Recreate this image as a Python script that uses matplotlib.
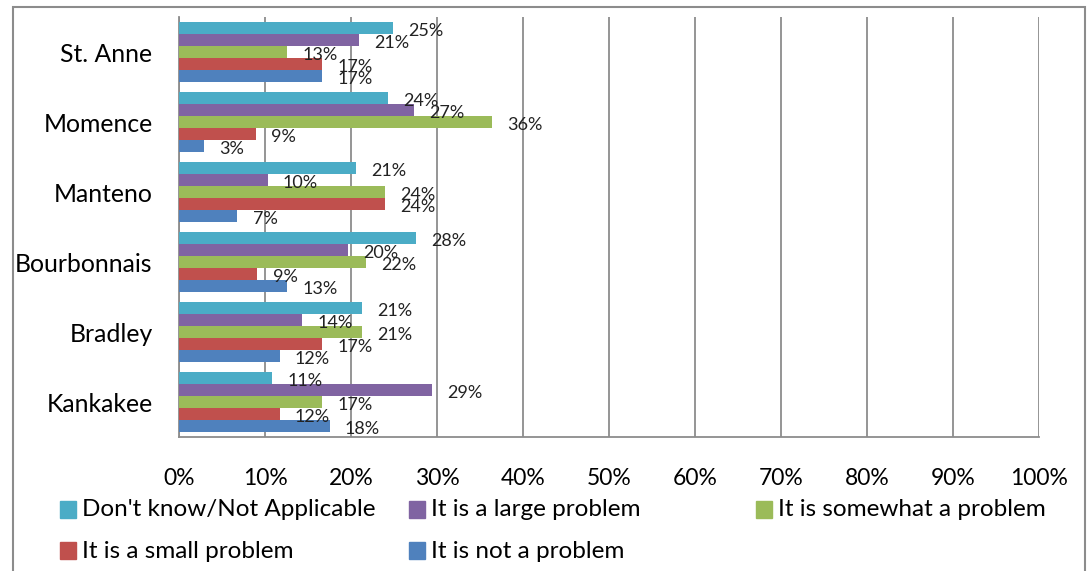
import matplotlib.pyplot as plt
from matplotlib.patches import Rectangle
import numpy as np

plt.rcParams['font.family'] = ['Lato', 'DejaVu Sans']

towns = ['St. Anne', 'Momence', 'Manteno', 'Bourbonnais', 'Bradley', 'Kankakee']
series = ["Don't know/Not Applicable", 'It is a large problem', 'It is somewhat a problem',
          'It is a small problem', 'It is not a problem']
colors = ['#4BACC6', '#8064A2', '#9BBB59', '#C0504D', '#4F81BD']

dont_know = [24.9, 24.3, 20.6, 27.5, 21.3, 10.8]
large = [20.9, 27.3, 10.3, 19.6, 14.3, 29.4]
somewhat = [12.6, 36.4, 24.0, 21.7, 21.3, 16.6]
small = [16.6, 8.9, 24.0, 9.1, 16.6, 11.7]
not_problem = [16.6, 2.9, 6.8, 12.6, 11.7, 17.5]
values = [dont_know, large, somewhat, small, not_problem]

W, H = 1090, 571
fig = plt.figure(figsize=(W / 100, H / 100), dpi=100)
ax = fig.add_axes([179 / W, 1 - 437 / H, (1039 - 179) / W, (437 - 17) / H])

y = np.arange(len(towns))
h = 0.173
for k, (vals, col) in enumerate(zip(values, colors)):
    pos = y + (k - 2) * h
    ax.barh(pos, vals, height=h, color=col, zorder=3)
    for p, v in zip(pos, vals):
        ax.annotate('%d%%' % round(v), (v, p), xytext=(11, -2), textcoords='offset points',
                    ha='left', va='center', fontsize=13, color='#222222', zorder=4)

ax.set_xlim(0, 100)
ax.set_ylim(len(towns) - 0.5, -0.5)
ax.set_xticks(np.arange(0, 101, 10))
ax.set_xticklabels(['%d%%' % t for t in range(0, 101, 10)], fontsize=16.5)
ax.set_yticks(y)
ax.set_yticklabels(towns, fontsize=17.8)
ax.tick_params(axis='x', length=0, pad=22)
ax.tick_params(axis='y', length=0, pad=19)
ax.grid(axis='x', color='#8c8c8c', linewidth=1.3, zorder=1)
for s in ['top', 'right']:
    ax.spines[s].set_visible(False)
for s in ['left', 'bottom']:
    ax.spines[s].set_color('#8c8c8c')
    ax.spines[s].set_linewidth(1.3)

# legend, laid out like the original (3 columns, 2 rows)
leg_x = [60, 409, 756]
leg_y = [510, 551]
for k, (name, col) in enumerate(zip(series, colors)):
    r, c = divmod(k, 3)
    x0, y0 = leg_x[c], leg_y[r]
    fig.add_artist(Rectangle((x0 / W, 1 - (y0 + 8) / H), 16 / W, 17 / H,
                             transform=fig.transFigure, color=col))
    fig.text((x0 + 22) / W, 1 - y0 / H, name, fontsize=17.5, va='center', ha='left')

# outer chart frame
fig.add_artist(Rectangle((13 / W, -0.05), (1085 - 13) / W, 1 - 7 / H + 0.05,
                         transform=fig.transFigure, fill=False, edgecolor='#8c8c8c', linewidth=1.5))

fig.savefig('out.png', dpi=100)
